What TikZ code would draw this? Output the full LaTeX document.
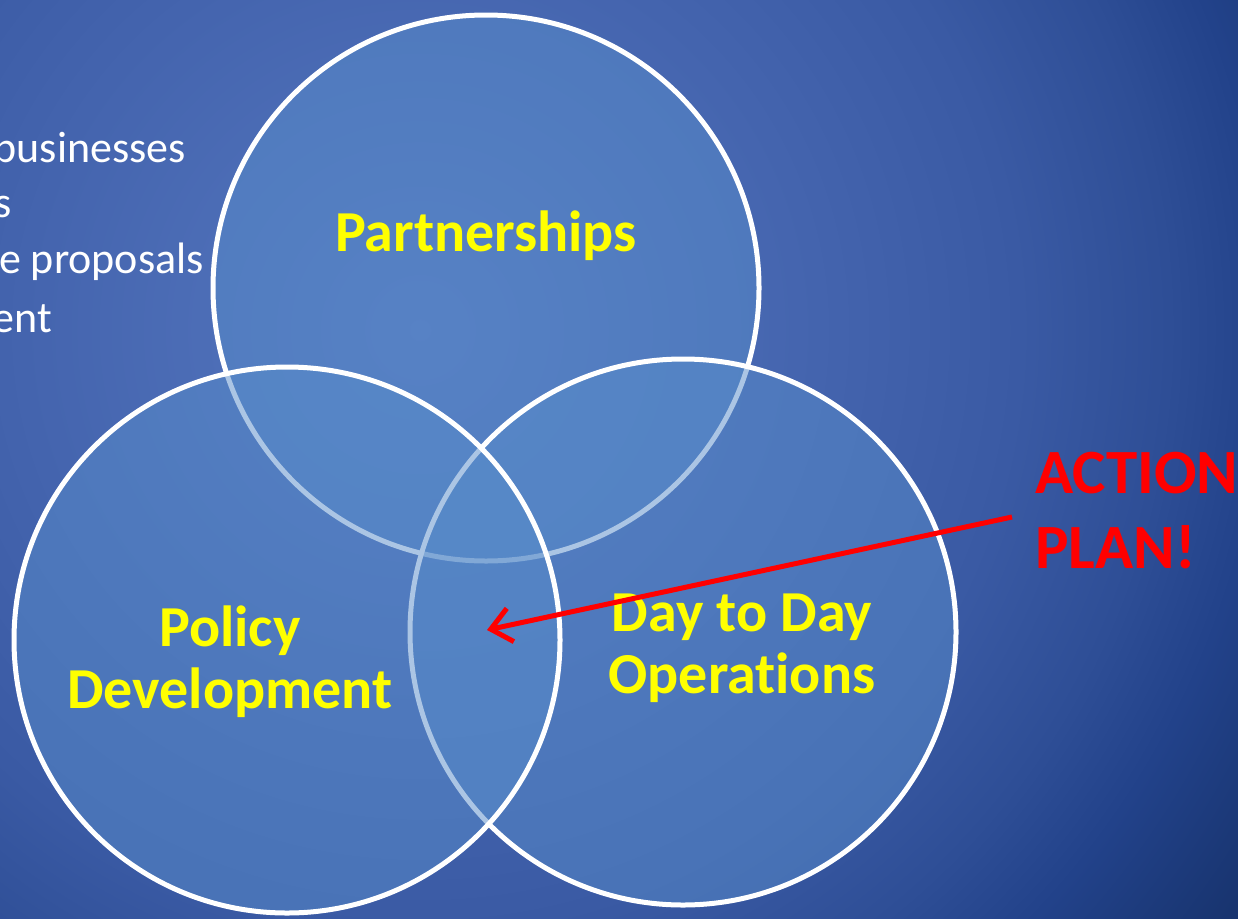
\documentclass[tikz,border=0pt]{standalone}
\usepackage{fontspec}
\setmainfont{Carlito}[Ligatures=CommonOff]
\usetikzlibrary{arrows.meta}
\definecolor{bgA}{HTML}{5678C0}
\definecolor{bgB}{HTML}{4464AE}
\definecolor{bgC}{HTML}{3A5AA4}
\definecolor{bgD}{HTML}{2E4E96}
\definecolor{bgE}{HTML}{22428A}
\definecolor{bgF}{HTML}{18346F}
\definecolor{bgG}{HTML}{123068}
\definecolor{circfill}{HTML}{588CCA}
\definecolor{labelyellow}{HTML}{FFFF00}
\definecolor{actionred}{HTML}{FF0000}
\pgfdeclareradialshading{bgshade}{\pgfpoint{0bp}{0bp}}{color(0bp)=(bgA); color(8.3bp)=(bgB); color(12.5bp)=(bgC); color(15.6bp)=(bgD); color(17.7bp)=(bgE); color(20.8bp)=(bgF); color(25bp)=(bgG); color(50bp)=(bgG)}
\tikzset{
  venn/.style={circle, draw=white, line width=5pt, fill=circfill, fill opacity=0.5, minimum size=546pt, inner sep=0pt},
  lbl/.style={text=labelyellow, font=\bfseries\fontsize{58}{62}\selectfont, align=center, inner sep=0pt},
  bullet/.style={text=white, font=\fontsize{44}{56}\selectfont, inner sep=0pt, anchor=base east},
  action/.style={text=actionred, font=\bfseries\fontsize{63}{75}\selectfont, align=left, inner sep=0pt},
  pointer/.style={draw=actionred, line width=5pt, -{Straight Barb[length=20pt,width=34pt,line width=5pt]}}
}
\begin{document}
\begin{tikzpicture}[x=1pt,y=-1pt]
\useasboundingbox (0,0) rectangle (1238,918);
\clip (0,0) rectangle (1238,918);
\path[shading=bgshade] (-780,-870) rectangle (1620,1530);
% left text lines (cut off at the left edge)
\node[bullet] (t1) at (186,162) {businesses};
\node[bullet] (t2) at (12,217) {s};
\node[bullet] (t3) at (204,273) {e proposals};
\node[bullet] (t4) at (52,332) {ent};
% circles: top, right, left (drawing order)
\node[venn] (top) at (486,288) {};
\node[venn] (right) at (683,632) {};
\node[venn] (left) at (287,640) {};
% labels
\node[lbl, anchor=base] (lp) at (486,251) {Partnerships};
\node[lbl, anchor=base] (ll) at (230,708) {Policy\\Development};
\node[lbl, anchor=base] (lr) at (742,693) {Day to Day\\Operations};
\node[action, anchor=base west] (act) at (1035,568) {ACTION\\PLAN!};
% arrow
\coordinate (astart) at (1012,517);
\coordinate (atip) at (487,630);
\draw[pointer] (astart) -- (atip);
\end{tikzpicture}
\end{document}
